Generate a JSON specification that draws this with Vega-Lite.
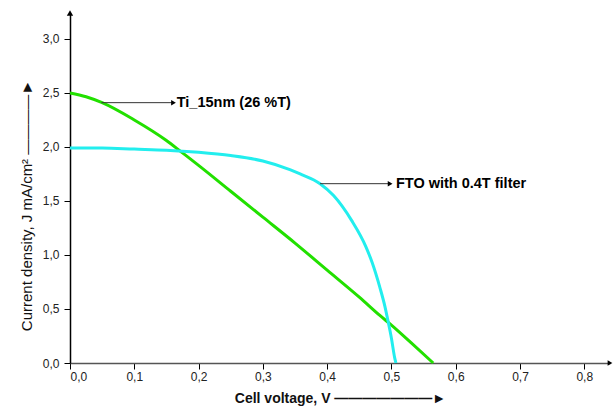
{
  "$schema": "https://vega.github.io/schema/vega-lite/v6.json",
  "autosize": "none",
  "width": 540,
  "height": 350,
  "padding": {"left": 70, "top": 13, "right": 3, "bottom": 47},
  "background": "white",
  "config": {
    "view": {"stroke": null},
    "font": "Liberation Sans",
    "axis": {"grid": false, "labelFont": "Liberation Sans", "titleFont": "Liberation Sans"}
  },
  "datasets": {
    "curves": [
      {"series": "Ti_15nm (26 %T)", "v": 0.0, "j": 2.5},
      {"series": "Ti_15nm (26 %T)", "v": 0.025, "j": 2.465},
      {"series": "Ti_15nm (26 %T)", "v": 0.05, "j": 2.41},
      {"series": "Ti_15nm (26 %T)", "v": 0.1, "j": 2.25},
      {"series": "Ti_15nm (26 %T)", "v": 0.15, "j": 2.06},
      {"series": "Ti_15nm (26 %T)", "v": 0.174, "j": 1.95},
      {"series": "Ti_15nm (26 %T)", "v": 0.2, "j": 1.83},
      {"series": "Ti_15nm (26 %T)", "v": 0.25, "j": 1.59},
      {"series": "Ti_15nm (26 %T)", "v": 0.3, "j": 1.35},
      {"series": "Ti_15nm (26 %T)", "v": 0.35, "j": 1.11},
      {"series": "Ti_15nm (26 %T)", "v": 0.4, "j": 0.86},
      {"series": "Ti_15nm (26 %T)", "v": 0.45, "j": 0.61},
      {"series": "Ti_15nm (26 %T)", "v": 0.482, "j": 0.44},
      {"series": "Ti_15nm (26 %T)", "v": 0.5, "j": 0.35},
      {"series": "Ti_15nm (26 %T)", "v": 0.53, "j": 0.19},
      {"series": "Ti_15nm (26 %T)", "v": 0.565, "j": 0.0},
      {"series": "FTO with 0.4T filter", "v": 0.0, "j": 1.99},
      {"series": "FTO with 0.4T filter", "v": 0.05, "j": 1.99},
      {"series": "FTO with 0.4T filter", "v": 0.1, "j": 1.98},
      {"series": "FTO with 0.4T filter", "v": 0.15, "j": 1.97},
      {"series": "FTO with 0.4T filter", "v": 0.2, "j": 1.95},
      {"series": "FTO with 0.4T filter", "v": 0.25, "j": 1.92},
      {"series": "FTO with 0.4T filter", "v": 0.3, "j": 1.87},
      {"series": "FTO with 0.4T filter", "v": 0.342, "j": 1.79},
      {"series": "FTO with 0.4T filter", "v": 0.358, "j": 1.75},
      {"series": "FTO with 0.4T filter", "v": 0.389, "j": 1.66},
      {"series": "FTO with 0.4T filter", "v": 0.41, "j": 1.55},
      {"series": "FTO with 0.4T filter", "v": 0.438, "j": 1.32},
      {"series": "FTO with 0.4T filter", "v": 0.46, "j": 1.08},
      {"series": "FTO with 0.4T filter", "v": 0.47, "j": 0.93},
      {"series": "FTO with 0.4T filter", "v": 0.482, "j": 0.7},
      {"series": "FTO with 0.4T filter", "v": 0.49, "j": 0.52},
      {"series": "FTO with 0.4T filter", "v": 0.495, "j": 0.38},
      {"series": "FTO with 0.4T filter", "v": 0.5, "j": 0.23},
      {"series": "FTO with 0.4T filter", "v": 0.505, "j": 0.05},
      {"series": "FTO with 0.4T filter", "v": 0.507, "j": 0.0}
    ],
    "notes": [
      {"label": "Ti_15nm (26 %T)", "x0": 0.049, "x1": 0.161, "y": 2.41, "tx": 0.166},
      {"label": "FTO with 0.4T filter", "x0": 0.389, "x1": 0.498, "y": 1.66, "tx": 0.507}
    ],
    "yend": [{"v": 0, "j": 3.24}],
    "xend": [{"v": 0.84, "j": 0}]
  },
  "layer": [
    {
      "data": {"name": "curves"},
      "mark": {"type": "line", "strokeWidth": 3, "interpolate": "monotone"},
      "encoding": {
        "x": {
          "field": "v", "type": "quantitative",
          "scale": {"domain": [0, 0.84], "nice": false, "zero": false},
          "axis": {
            "values": [0, 0.05, 0.1, 0.15, 0.2, 0.25, 0.3, 0.35, 0.4, 0.45, 0.5, 0.55, 0.6, 0.65, 0.7, 0.75, 0.8],
            "labelExpr": "abs(datum.value*10 - round(datum.value*10)) > 0.01 ? '' : replace(format(datum.value, '.1f'), '.', ',')",
            "tickSize": {"condition": {"test": "abs(datum.value*10 - round(datum.value*10)) > 0.01", "value": 3}, "value": 6},
            "tickColor": "#000", "domainColor": "#555", "domainWidth": 1.5,
            "labelFontSize": 12, "labelColor": "#222", "labelPadding": 2,
            "title": "Cell voltage, V         \u2014\u2014\u2014\u2014\u2014\u2014\u2014\u25ba",
            "titleFontSize": 14, "titleFontWeight": "bold", "titleColor": "#111", "titlePadding": 9
          }
        },
        "y": {
          "field": "j", "type": "quantitative",
          "scale": {"domain": [0, 3.24], "nice": false, "zero": false},
          "axis": {
            "values": [0, 0.25, 0.5, 0.75, 1, 1.25, 1.5, 1.75, 2, 2.25, 2.5, 2.75, 3],
            "labelExpr": "abs(datum.value*2 - round(datum.value*2)) > 0.01 ? '' : replace(format(datum.value, '.1f'), '.', ',')",
            "tickSize": {"condition": {"test": "abs(datum.value*2 - round(datum.value*2)) > 0.01", "value": 3}, "value": 6},
            "tickColor": "#000", "domainColor": "#000", "domainWidth": 1.5,
            "labelFontSize": 12, "labelColor": "#222", "labelPadding": 5,
            "title": "Current density, J mA/cm\u00b2    \u2014\u2014\u2014\u2014\u25ba",
            "titleFontSize": 15, "titleFontWeight": "normal", "titleColor": "#111",
            "titleY": 192, "titleX": -44, "titleBaseline": "middle"
          }
        },
        "color": {
          "field": "series", "type": "nominal",
          "scale": {"domain": ["Ti_15nm (26 %T)", "FTO with 0.4T filter"], "range": ["#22e000", "#22eeee"]},
          "legend": null
        }
      }
    },
    {
      "data": {"name": "notes"},
      "mark": {"type": "rule", "color": "#333", "strokeWidth": 1},
      "encoding": {
        "x": {"field": "x0", "type": "quantitative"},
        "x2": {"field": "x1"},
        "y": {"field": "y", "type": "quantitative"}
      }
    },
    {
      "data": {"name": "notes"},
      "mark": {"type": "point", "shape": "triangle-right", "filled": true, "color": "#000", "size": 30, "opacity": 1},
      "encoding": {
        "x": {"field": "x1", "type": "quantitative"},
        "y": {"field": "y", "type": "quantitative"}
      }
    },
    {
      "data": {"name": "notes"},
      "mark": {"type": "text", "align": "left", "baseline": "middle", "fontWeight": "bold", "fontSize": 14.5, "color": "#000"},
      "encoding": {
        "x": {"field": "tx", "type": "quantitative"},
        "y": {"field": "y", "type": "quantitative"},
        "text": {"field": "label"}
      }
    },
    {
      "data": {"name": "yend"},
      "mark": {"type": "point", "shape": "triangle-up", "filled": true, "color": "#000", "size": 40, "opacity": 1},
      "encoding": {
        "x": {"field": "v", "type": "quantitative"},
        "y": {"field": "j", "type": "quantitative"}
      }
    },
    {
      "data": {"name": "xend"},
      "mark": {"type": "point", "shape": "triangle-right", "filled": true, "color": "#000", "size": 30, "opacity": 1},
      "encoding": {
        "x": {"field": "v", "type": "quantitative"},
        "y": {"field": "j", "type": "quantitative"}
      }
    }
  ]
}
